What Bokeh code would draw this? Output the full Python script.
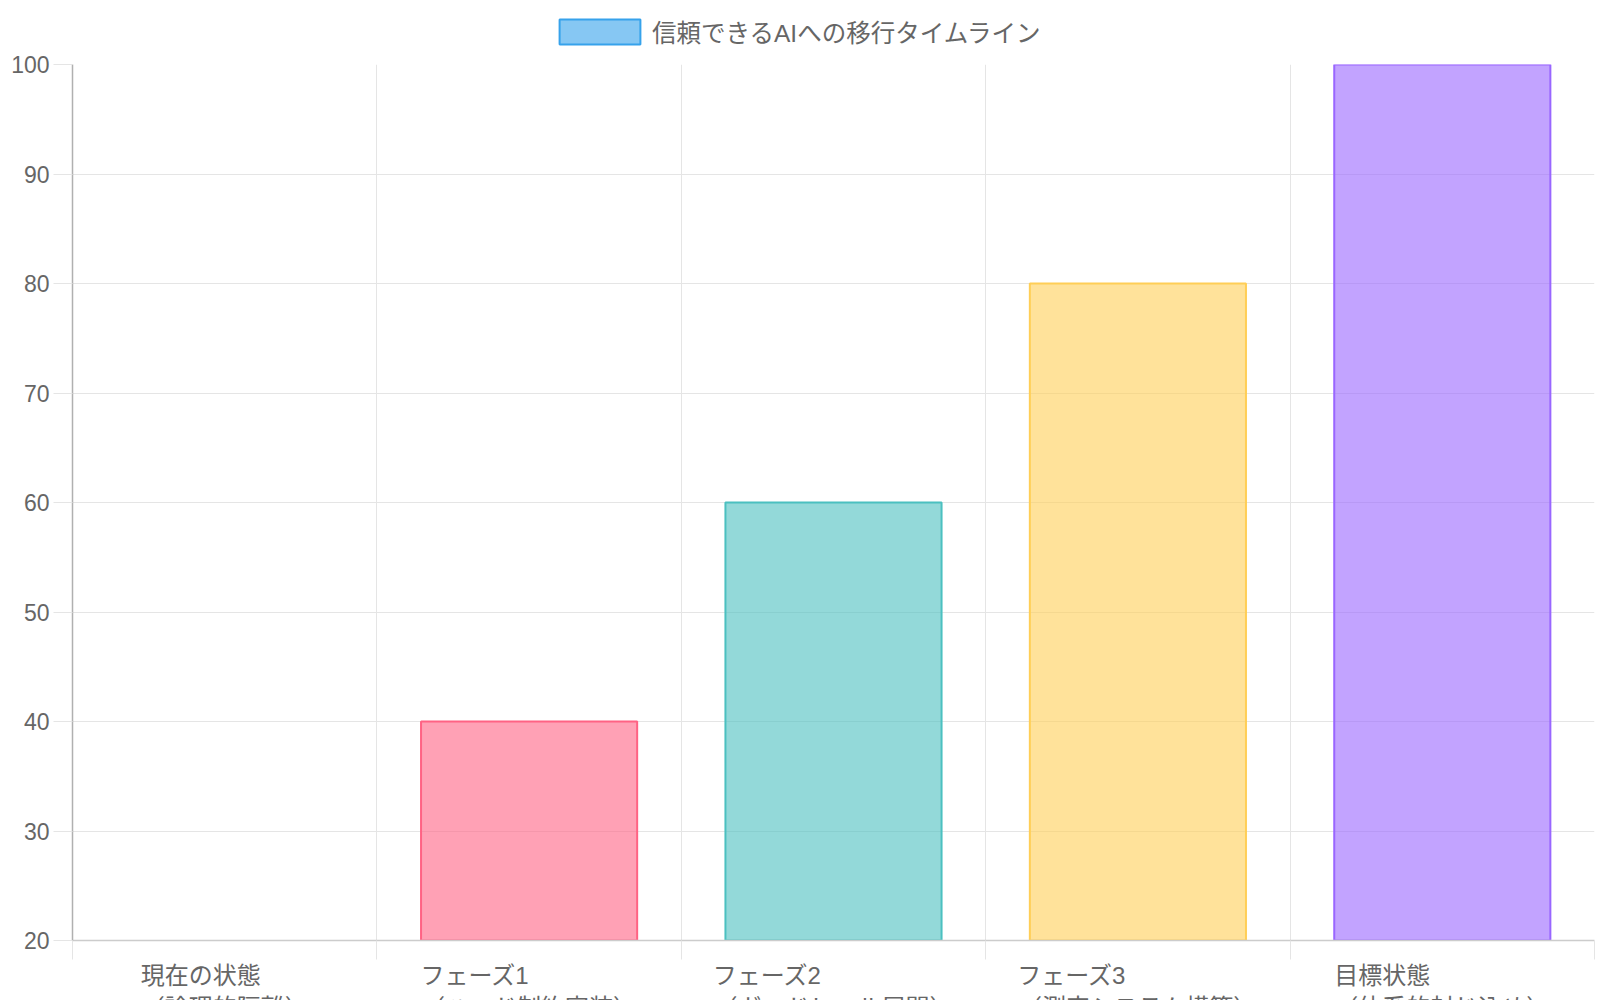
from bokeh.plotting import figure
from bokeh.layouts import column
from bokeh.models import (Range1d, LinearAxis, FixedTicker, Grid,
                          ColumnDataSource, CDSView, BooleanFilter, Legend, LegendItem)
from bokeh.embed import file_html
from bokeh.resources import INLINE

# ---- data ----
categories = [
    "現在の状態\n（論理的隔離）",
    "フェーズ1\n（ハード制約実装）",
    "フェーズ2\n（ガードレール展開）",
    "フェーズ3\n（測定システム構築）",
    "目標状態\n（体系的封じ込め）",
]
values = [20, 40, 60, 80, 100]
y_ticks = [20, 30, 40, 50, 60, 70, 80, 90, 100]
series_name = "信頼できるAIへの移行タイムライン"
fill_colors = ["rgba(54,162,235,0.6)", "rgba(255,99,132,0.6)", "rgba(75,192,192,0.6)",
               "rgba(255,206,86,0.6)", "rgba(153,102,255,0.6)"]
line_colors = ["rgb(54,162,235)", "rgb(255,99,132)", "rgb(75,192,192)",
               "rgb(255,206,86)", "rgb(153,102,255)"]

y_min, y_max = y_ticks[0], y_ticks[-1]
n = len(categories)
centers = [i + 0.5 for i in range(n)]          # category slot centres
bounds = list(range(n + 1))                     # category slot boundaries
FONT = "Liberation Sans, Noto Sans CJK JP"
TEXT = "#666666"
GRID = "#e5e5e5"
TOTAL_W = 1598
LEG_H = 52


def em_width(s):
    return sum(1.0 if ord(ch) > 0x2000 else 0.56 for ch in s)


def pad(diff):
    whole = int(diff)
    rest = diff - whole
    return "\u3000" * whole + ("\u2002" if rest >= 0.25 else "")


def left_block(label):
    # multi-line label laid out as a left-aligned block (lines padded to equal width)
    lines = label.split("\n")
    w = max(em_width(l) for l in lines)
    return "\n".join(l + pad(w - em_width(l)) for l in lines)


# ---------- legend strip (top) ----------
leg = figure(x_range=Range1d(0, 1), y_range=Range1d(0, 1),
             frame_width=TOTAL_W, frame_height=LEG_H,
             min_border_left=0, min_border_right=0, min_border_top=0, min_border_bottom=0,
             x_axis_location=None, y_axis_location=None,
             output_backend="svg", toolbar_location=None)
leg.outline_line_color = None
leg.xgrid.visible = False
leg.ygrid.visible = False
leg_src = ColumnDataSource(dict(x=[centers[0]], top=[values[0]], bottom=[y_min]))
swatch = leg.vbar(x="x", top="top", bottom="bottom", width=0.71, source=leg_src,
                  fill_color=fill_colors[0], line_color=line_colors[0], line_width=2,
                  visible=False)
legend = Legend(items=[LegendItem(label=series_name, renderers=[swatch])],
                location=(549, 3), orientation="horizontal",
                glyph_width=101, glyph_height=31, label_standoff=2,
                label_text_font=FONT, label_text_font_size="24.5px", label_text_color=TEXT,
                label_height=25, padding=0, margin=0, spacing=0,
                border_line_alpha=0, background_fill_alpha=0, inactive_fill_alpha=0)
leg.add_layout(legend, "center")

# ---------- main chart ----------
p = figure(x_range=Range1d(0, n), y_range=Range1d(y_min, y_max),
           frame_width=1522, frame_height=876,
           min_border_left=72, min_border_right=TOTAL_W - 72 - 1522,
           min_border_top=64 - LEG_H, min_border_bottom=0,
           x_axis_location=None, y_axis_location="left",
           output_backend="svg", toolbar_location=None)
p.outline_line_color = None
p.background_fill_color = "white"
p.border_fill_color = "white"

# vertical grid at category boundaries
p.xgrid.visible = False
p.add_layout(Grid(dimension=0, ticker=FixedTicker(ticks=bounds),
                  grid_line_color=GRID, grid_line_width=1))

# y axis
p.yaxis.ticker = FixedTicker(ticks=y_ticks)
p.yaxis.major_tick_out = 19
p.yaxis.major_tick_in = 0
p.yaxis.major_tick_line_color = GRID
p.yaxis.minor_tick_line_color = None
p.yaxis.axis_line_color = "#b0b0b0"
p.yaxis.axis_line_width = 1.5
p.yaxis.major_label_text_font = FONT
p.yaxis.major_label_text_font_size = "23px"
p.yaxis.major_label_text_color = TEXT
p.yaxis.major_label_standoff = 4
p.ygrid.grid_line_color = GRID
p.ygrid.grid_line_width = 1

# x axes: boundary ticks + category labels
tick_axis = LinearAxis(ticker=FixedTicker(ticks=bounds, minor_ticks=[]),
                       major_tick_out=19, major_tick_in=0, major_tick_line_color=GRID,
                       minor_tick_line_color=None, axis_line_color="#cccccc", axis_line_width=1.5,
                       major_label_text_font_size="1px", major_label_text_alpha=0,
                       major_label_standoff=0)
label_axis = LinearAxis(ticker=FixedTicker(ticks=centers, minor_ticks=[]),
                        major_label_overrides={c: left_block(lab) for c, lab in zip(centers, categories)},
                        axis_line_color=None, major_tick_line_color=None,
                        minor_tick_line_color=None, major_tick_out=0, major_tick_in=0,
                        major_label_text_font=FONT, major_label_text_font_size="24px",
                        major_label_text_color=TEXT, major_label_standoff=2)
p.below = [tick_axis, label_axis]

# bars
src = ColumnDataSource(dict(x=centers, val=values, base=[y_min] * n,
                            fill=fill_colors, line=line_colors))
view = CDSView(filter=BooleanFilter([v > y_min for v in values]))
p.vbar(x="x", top="val", bottom="base", width=0.71, fill_color="fill", line_color="line",
       line_width=2, source=src, view=view)

layout = column(leg, p, spacing=0)
open("out.html", "w").write(file_html(layout, INLINE))
